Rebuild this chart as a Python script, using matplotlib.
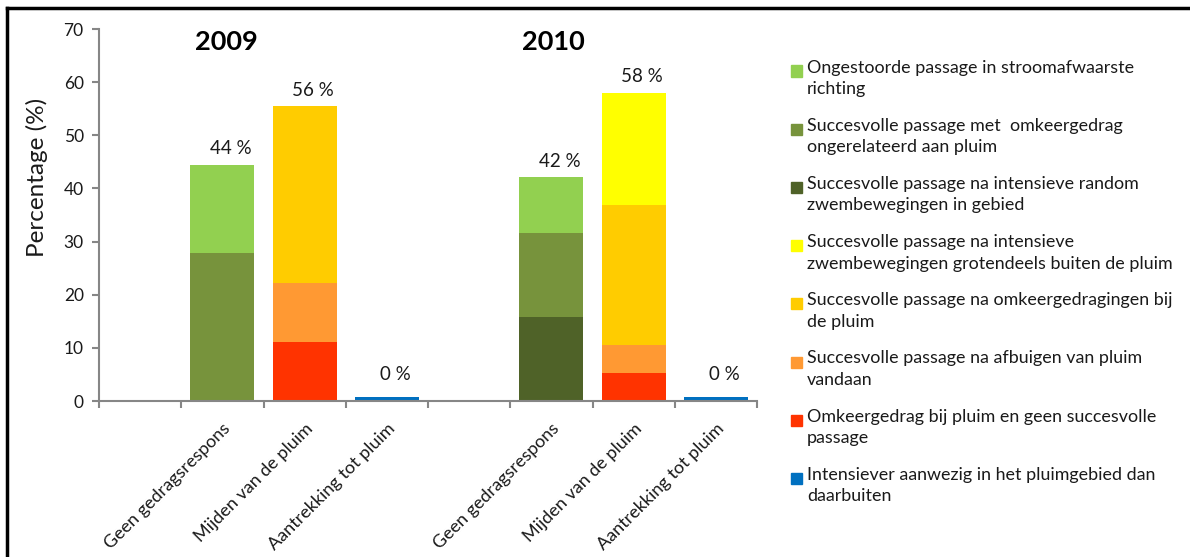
import numpy as np
import matplotlib.pyplot as plt
from matplotlib.patches import Rectangle
from matplotlib.lines import Line2D

plt.rcParams['font.family'] = ['Lato', 'DejaVu Sans']

# x slots: blank, three behaviours (2009), blank, three behaviours (2010)
categories = ['', 'Geen gedragsrespons', 'Mijden van de pluim', 'Aantrekking tot pluim',
              '', 'Geen gedragsrespons', 'Mijden van de pluim', 'Aantrekking tot pluim']
years = ['2009', '2010']
total_labels = ['', '44 %', '56 %', '0 %', '', '42 %', '58 %', '0 %']

# series, listed in legend order (top of legend first)
series_names = [
    'Ongestoorde passage in stroomafwaarste\nrichting',
    'Succesvolle passage met  omkeergedrag\nongerelateerd aan pluim',
    'Succesvolle passage na intensieve random\nzwembewegingen in gebied',
    'Succesvolle passage na intensieve\nzwembewegingen grotendeels buiten de pluim',
    'Succesvolle passage na omkeergedragingen bij\nde pluim',
    'Succesvolle passage na afbuigen van pluim\nvandaan',
    'Omkeergedrag bij pluim en geen succesvolle\npassage',
    'Intensiever aanwezig in het pluimgebied dan\ndaarbuiten',
]
series_colors = ['#92D050', '#77933C', '#4F6228', '#FFFF00',
                 '#FFCC00', '#FF9933', '#FF3300', '#0070C0']

ongestoord = [0, 16.7, 0, 0, 0, 10.5, 0, 0]
ongerelateerd = [0, 27.8, 0, 0, 0, 15.8, 0, 0]
random_zwem = [0, 0, 0, 0, 0, 15.8, 0, 0]
buiten_pluim = [0, 0, 0, 0, 0, 0, 21.1, 0]
omkeer_pluim = [0, 0, 33.3, 0, 0, 0, 26.3, 0]
afbuigen = [0, 0, 11.1, 0, 0, 0, 5.3, 0]
geen_succes = [0, 0, 11.1, 0, 0, 0, 5.3, 0]
intensiever = [0, 0, 0, 0.7, 0, 0, 0, 0.7]

series_values = [ongestoord, ongerelateerd, random_zwem, buiten_pluim,
                 omkeer_pluim, afbuigen, geen_succes, intensiever]

fig = plt.figure(figsize=(11.9, 5.57), dpi=100)
ax = fig.add_axes([99 / 1190, 1 - 401 / 557, (757 - 99) / 1190, (401 - 29) / 557])

x = np.arange(len(categories))
bottom = np.zeros(len(categories))
# stack from the bottom of the legend upwards
for vals, col in zip(series_values[::-1], series_colors[::-1]):
    vals = np.array(vals, dtype=float)
    ax.bar(x, vals, width=0.78, bottom=bottom, color=col, linewidth=0)
    bottom += vals

for xi, top, lab in zip(x, bottom, total_labels):
    if lab:
        ypos = top + 3 if top > 1 else 4.9
        ax.text(xi + 0.1, ypos, lab, ha='center', va='center', fontsize=13.5, color='#1a1a1a')

ax.text(1.05, 67.5, years[0], ha='center', va='center', fontsize=19.5, fontweight='bold')
ax.text(5.03, 67.5, years[1], ha='center', va='center', fontsize=19.5, fontweight='bold')

ax.set_xlim(-0.5, 7.5)
ax.set_ylim(0, 70)
ax.set_yticks(np.arange(0, 71, 10))
ax.set_xticks(np.arange(-0.5, 8, 1))
ax.set_xticklabels([])
ax.set_xticks(x, minor=True)
ax.set_xticklabels(categories, minor=True, rotation=45, ha='right', rotation_mode='anchor',
                   fontsize=13, color='#1a1a1a')
ax.tick_params(axis='x', which='minor', length=0, pad=14)
ax.tick_params(axis='x', which='major', length=5, color='#868686', width=1.5)
ax.tick_params(axis='y', length=5, color='#868686', width=1.5, labelsize=12.5,
               labelcolor='#1a1a1a', pad=6)
for s in ['top', 'right']:
    ax.spines[s].set_visible(False)
for s in ['left', 'bottom']:
    ax.spines[s].set_color('#868686')
    ax.spines[s].set_linewidth(1.5)

fig.text(37 / 1190, 1 - 177 / 557, 'Percentage (%)', rotation=90, ha='center', va='center',
         fontsize=17.5, color='#1a1a1a')

# legend drawn by hand so the swatch sits on the first text line
for i, (name, col) in enumerate(zip(series_names, series_colors)):
    yc = 71 + 58.2 * i
    fig.patches.append(Rectangle((791 / 1190, 1 - (yc + 5.5) / 557), 11 / 1190, 11 / 557,
                                 transform=fig.transFigure, color=col, figure=fig))
    fig.text(807 / 1190, 1 - (yc - 11.5) / 557, name, ha='left', va='top', fontsize=12.9,
             linespacing=1.42, color='#1a1a1a')

# outer frame (top and left edge only visible in the crop)
fig.add_artist(Line2D([7 / 1190, 1], [1 - 7.5 / 557] * 2, transform=fig.transFigure,
                      color='black', linewidth=2.5))
fig.add_artist(Line2D([7 / 1190] * 2, [0, 1 - 7.5 / 557], transform=fig.transFigure,
                      color='black', linewidth=2.5))

fig.savefig('out.png', dpi=100)
